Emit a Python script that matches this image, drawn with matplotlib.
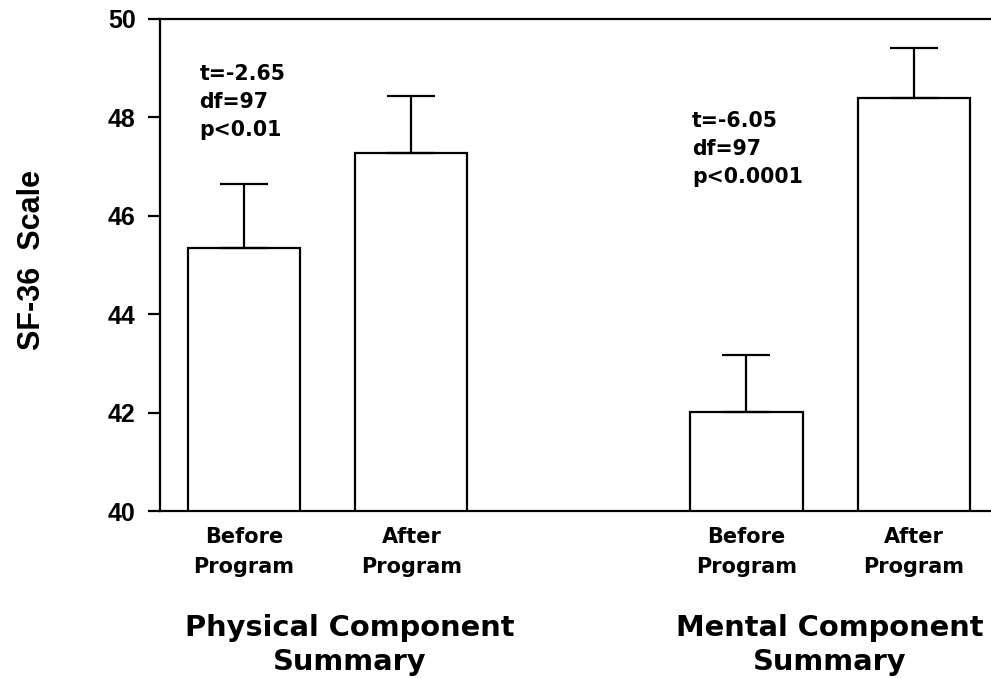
import matplotlib
matplotlib.use("Agg")
import matplotlib.pyplot as plt

plt.rcParams['font.family'] = ['Liberation Sans', 'DejaVu Sans']
plt.rcParams['font.weight'] = 'bold'
WIDE = ['DejaVu Sans']

# Data
positions = [0, 1, 3, 4]
categories = ["Before\nProgram", "After\nProgram", "Before\nProgram", "After\nProgram"]
means = [45.35, 47.28, 42.02, 48.40]
errors = [1.30, 1.16, 1.16, 1.02]
group_labels = ["Physical Component\nSummary", "Mental Component\nSummary"]
group_x = [0.63, 3.50]
stats_text = ["t=-2.65\ndf=97\np<0.01", "t=-6.05\ndf=97\np<0.0001"]
stats_x = [-0.265, 2.675]
stats_y = [49.08, 48.14]
yticks = [40, 42, 44, 46, 48, 50]

fig = plt.figure(figsize=(9.91, 6.78), dpi=100)
ax = fig.add_axes([0.1615, 0.2463, 0.8385, 0.7257])

ax.bar(positions, means, width=0.67, color='white', edgecolor='black',
       linewidth=1.6, zorder=2)
ax.errorbar(positions, means, yerr=[[0] * len(errors), errors], fmt='none',
            ecolor='black', elinewidth=1.6, capsize=17.5, capthick=1.6, zorder=3)

ax.set_ylim(40, 50)
ax.set_xlim(-0.50, 4.46)
ax.set_yticks(yticks)
ax.set_yticklabels([str(v) for v in yticks], fontsize=18, fontweight='bold')
ax.tick_params(axis='y', direction='out', length=8.5, width=1.6, pad=9)
ax.set_xticks(positions)
ax.set_xticklabels(categories, fontsize=15, fontweight='bold', family=WIDE,
                   linespacing=1.6)
ax.tick_params(axis='x', length=0, pad=11.5)

for side in ['left', 'bottom', 'top']:
    ax.spines[side].set_linewidth(1.6)
ax.spines['right'].set_visible(False)

ax.set_ylabel("SF-36  Scale", fontsize=22, fontweight='bold')
ax.yaxis.set_label_coords(-0.136, 0.51)

for x, y, s in zip(stats_x, stats_y, stats_text):
    ax.text(x, y, s, fontsize=14.8, fontweight='bold', family=WIDE,
            ha='left', va='top', linespacing=1.5)

for x, s in zip(group_x, group_labels):
    ax.text(x, -0.209, s, transform=ax.get_xaxis_transform(), fontsize=20.8,
            fontweight='bold', family=WIDE, ha='center', va='top',
            linespacing=1.28)

fig.savefig("out.png", dpi=100, facecolor='white')
